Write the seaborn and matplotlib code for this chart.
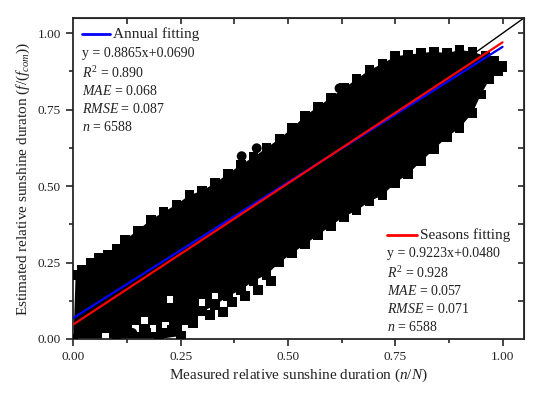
import numpy as np
import pandas as pd
import matplotlib
matplotlib.use("Agg")
import matplotlib.pyplot as plt
import seaborn as sns

# upper / lower edge of the dense point cloud
upper_x = [0.005, 0.02, 0.04, 0.06, 0.08, 0.10, 0.12, 0.15, 0.18, 0.21, 0.24, 0.27, 0.30,
           0.33, 0.36, 0.39, 0.42, 0.45, 0.48, 0.51, 0.54, 0.57, 0.60, 0.63, 0.66, 0.69,
           0.72, 0.75, 0.78, 0.81, 0.84, 0.87, 0.90, 0.93, 0.96, 0.98, 1.00]
upper_y = [0.21, 0.225, 0.25, 0.265, 0.275, 0.295, 0.325, 0.355, 0.39, 0.415, 0.44, 0.47, 0.485,
           0.51, 0.54, 0.57, 0.595, 0.625, 0.655, 0.69, 0.73, 0.76, 0.79, 0.82, 0.85, 0.88,
           0.90, 0.925, 0.93, 0.935, 0.94, 0.935, 0.945, 0.94, 0.925, 0.91, 0.895]
lower_x = [0.00, 0.10, 0.20, 0.25, 0.28, 0.30, 0.33, 0.36, 0.39, 0.42, 0.45, 0.48, 0.51,
           0.54, 0.57, 0.60, 0.63, 0.66, 0.69, 0.72, 0.75, 0.78, 0.81, 0.84, 0.87, 0.90,
           0.93, 0.95, 0.97, 0.99, 1.00]
lower_y = [0.00, 0.00, 0.00, 0.01, 0.06, 0.09, 0.11, 0.14, 0.16, 0.19, 0.21, 0.25, 0.28,
           0.31, 0.34, 0.37, 0.40, 0.42, 0.45, 0.47, 0.51, 0.54, 0.58, 0.62, 0.66, 0.69,
           0.74, 0.80, 0.85, 0.875, 0.89]

# isolated points outside the dense band
out_sq_x = [0.279, 0.318, 0.349, 0.37, 0.40, 0.43, 0.46, 0.23, 0.17]
out_sq_y = [0.052, 0.078, 0.088, 0.12, 0.14, 0.16, 0.19, 0.03, 0.02]
out_ci_x = [0.349, 0.137, 0.62, 0.427, 0.392]
out_ci_y = [0.153, 0.02, 0.82, 0.624, 0.598]

# empty gaps inside the lower-left part of the cloud
gap_x = [0.075, 0.145, 0.185, 0.215, 0.165, 0.26, 0.225, 0.30, 0.33]
gap_y = [0.008, 0.035, 0.035, 0.045, 0.06, 0.035, 0.13, 0.12, 0.14]

# fitted models
annual_coef = (0.8865, 0.0690)
season_coef = (0.9223, 0.0480)
annual_txt = ["y = 0.8865x+0.0690", r"$R^2$ = 0.890", r"$MAE$ = 0.068",
              r"$RMSE$ = 0.087", r"$n$ = 6588"]
season_txt = ["y = 0.9223x+0.0480", r"$R^2$ = 0.928", r"$MAE$ = 0.057",
              r"$RMSE$ = 0.071", r"$n$ = 6588"]

sns.set_style("ticks")
plt.rcParams["font.family"] = ["Liberation Serif", "DejaVu Serif"]
plt.rcParams["mathtext.fontset"] = "custom"
plt.rcParams["mathtext.rm"] = "Liberation Serif"
plt.rcParams["mathtext.it"] = "Liberation Serif:italic"
plt.rcParams["mathtext.bf"] = "Liberation Serif:bold"

fig = plt.figure(figsize=(5.5, 3.97), dpi=100)
ax = fig.add_axes([0.1336, 0.1461, 0.8191, 0.8086])

# 1:1 line
ax.plot([0, 1.05], [0, 1.05], color="black", lw=1.0, zorder=1)

# dense cloud
poly_x = np.r_[upper_x, lower_x[::-1]]
poly_y = np.r_[upper_y, lower_y[::-1]]
ax.fill(poly_x, poly_y, color="black", lw=0, zorder=2)

gaps = pd.DataFrame({"x": gap_x, "y": gap_y})
sns.scatterplot(data=gaps, x="x", y="y", marker="s", s=22, color="white",
                edgecolor="none", ax=ax, zorder=2.5)

edge = pd.DataFrame({"x": upper_x + lower_x + out_sq_x,
                     "y": upper_y + lower_y + out_sq_y})
sns.scatterplot(data=edge, x="x", y="y", marker="s", s=48, color="black",
                edgecolor="none", ax=ax, zorder=3)
circ = pd.DataFrame({"x": out_ci_x, "y": out_ci_y})
sns.scatterplot(data=circ, x="x", y="y", marker="o", s=50, color="black",
                edgecolor="none", ax=ax, zorder=3)

# fit lines
xf = np.array([0.0, 1.0])
ax.plot(xf, annual_coef[0] * xf + annual_coef[1], color="#0000ff", lw=1.6, zorder=4)
ax.plot(xf, season_coef[0] * xf + season_coef[1], color="#ff0000", lw=1.6, zorder=5)

ax.set_xlim(0, 1.05)
ax.set_ylim(0, 1.05)
ax.set_xticks([0, 0.25, 0.5, 0.75, 1.0])
ax.set_yticks([0, 0.25, 0.5, 0.75, 1.0])
ax.set_xticks([0.125, 0.375, 0.625, 0.875], minor=True)
ax.set_yticks([0.125, 0.375, 0.625, 0.875], minor=True)
ax.xaxis.set_major_formatter(matplotlib.ticker.FormatStrFormatter("%.2f"))
ax.yaxis.set_major_formatter(matplotlib.ticker.FormatStrFormatter("%.2f"))
ax.tick_params(which="major", direction="out", length=5, width=1.2,
               labelsize=9.5, labelcolor="#222222", pad=4)
ax.tick_params(which="minor", direction="out", length=3, width=1.2)
for sp in ax.spines.values():
    sp.set_linewidth(1.3)

# mirrored ticks on top / right pointing inward
tick_pos = [0.125, 0.25, 0.375, 0.5, 0.625, 0.75, 0.875, 1.0]
top = ax.secondary_xaxis("top")
top.set_xticks(tick_pos)
top.tick_params(direction="in", length=4, width=1.2, labeltop=False)
right = ax.secondary_yaxis("right")
right.set_yticks(tick_pos)
right.tick_params(direction="in", length=4, width=1.2, labelright=False)

ax.set_xlabel(r"Measured relative sunshine duration ($n/N$)", fontsize=11,
              color="#222222", labelpad=2)
ax.set_ylabel(r"Estimated relative sunshine duraton ($f$/($f_{com}$))", fontsize=11,
              color="#222222", labelpad=4)

# annotation blocks
ax.plot([0.02, 0.085], [0.997, 0.997], color="#0000ff", lw=2)
ax.text(0.092, 0.997, "Annual fitting", fontsize=11, va="center", color="#222222")
for yy, s in zip([0.935, 0.869, 0.810, 0.752, 0.693], annual_txt):
    ax.text(0.02, yy, s, fontsize=10, va="center", color="#222222")

ax.plot([0.73, 0.80], [0.340, 0.340], color="#ff0000", lw=2)
ax.text(0.807, 0.340, "Seasons fitting", fontsize=11, va="center", color="#222222")
for yy, s in zip([0.281, 0.216, 0.157, 0.098, 0.039], season_txt):
    ax.text(0.73, yy, s, fontsize=10, va="center", color="#222222")

fig.savefig("out.png", dpi=100)
